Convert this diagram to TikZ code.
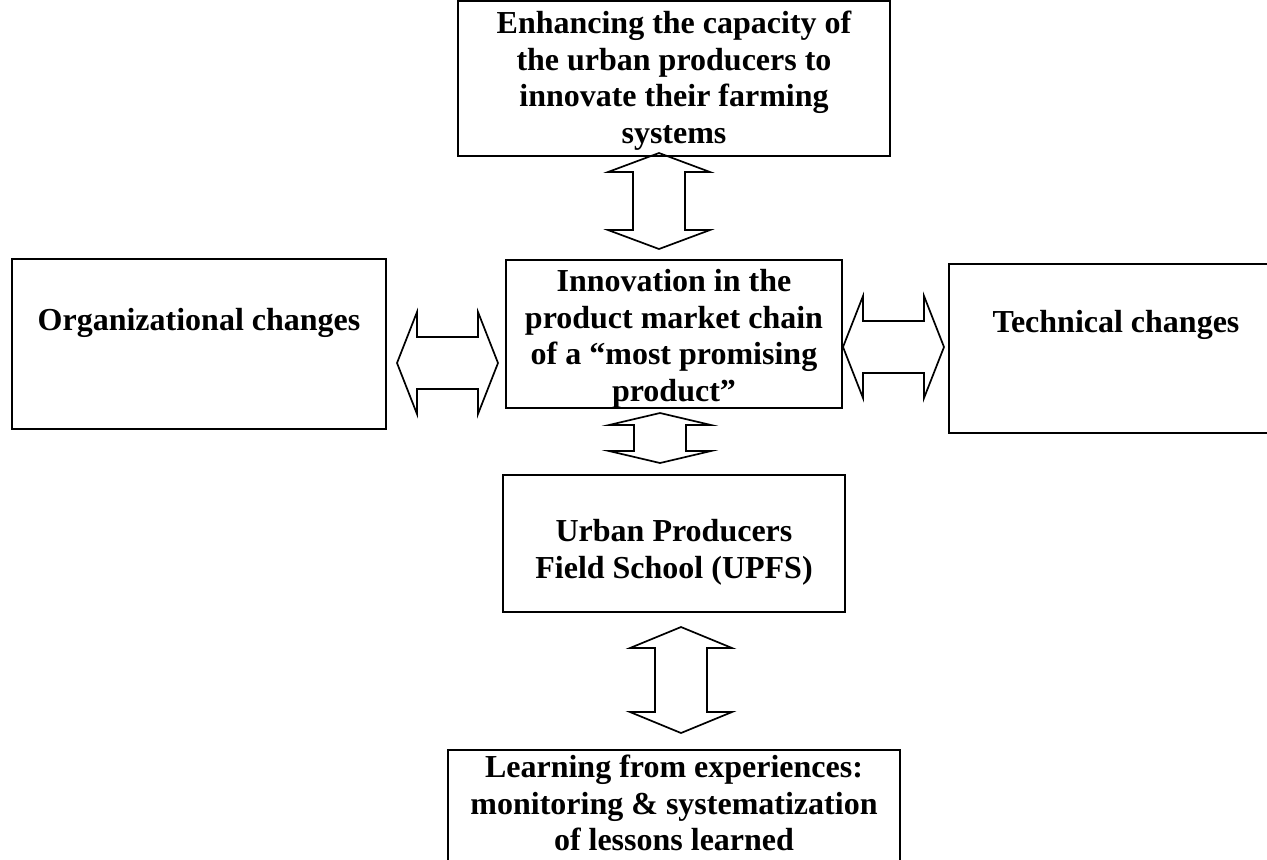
\documentclass[tikz,border=0pt]{standalone}
\usepackage{fontspec}
\setmainfont{Liberation Serif}
\usetikzlibrary{calc}

% up-down block arrow between two tips (#1 = head length)
\newcommand{\vbiarrow}[3][9.5pt]{%
	\draw[biarrow] let \p1=(#2), \p2=(#3) in
	(\p1) -- (\x1+25.5pt,\y1-#1) -- (\x1+13pt,\y1-#1) -- (\x1+13pt,\y2+#1)
	-- (\x1+25.5pt,\y2+#1) -- (\p2) -- (\x1-25.5pt,\y2+#1) -- (\x1-13pt,\y2+#1)
	-- (\x1-13pt,\y1-#1) -- (\x1-25.5pt,\y1-#1) -- cycle;}
% left-right block arrow between two tips
\newcommand{\hbiarrow}[3][10pt]{%
	\draw[biarrow] let \p1=(#2), \p2=(#3) in
	(\p1) -- (\x1+#1,\y1+25.5pt) -- (\x1+#1,\y1+13pt) -- (\x2-#1,\y1+13pt)
	-- (\x2-#1,\y1+25.5pt) -- (\p2) -- (\x2-#1,\y1-25.5pt) -- (\x2-#1,\y1-13pt)
	-- (\x1+#1,\y1-13pt) -- (\x1+#1,\y1-25.5pt) -- cycle;}

\begin{document}
\begin{tikzpicture}[x=0.5pt,y=-0.5pt,line cap=butt,line join=miter]
	\tikzset{box/.style={draw,line width=1.2pt,inner sep=0pt,outer sep=0pt},
		boxtext/.style={font=\fontsize{16pt}{18.25pt}\selectfont\bfseries,align=center,inner sep=0pt},
		biarrow/.style={line width=0.85pt}
	}
	\useasboundingbox (0,0) rectangle (1267,859);
	% boxes
	\node[box,minimum width=216pt,minimum height=77.5pt] (enhance) at (674,78.5) {};
	\node[box,minimum width=168pt,minimum height=74pt] (innov) at (674,334) {};
	\node[box,minimum width=187pt,minimum height=85pt] (org) at (199,344) {};
	\node[box,minimum width=167pt,minimum height=84.5pt] (tech) at (1116,348.5) {};
	\node[box,minimum width=171pt,minimum height=68.5pt] (upfs) at (674,543.5) {};
	\node[box,minimum width=226pt,minimum height=59pt] (learn) at (674,809) {};
	% texts
	\node[boxtext,anchor=north] (enhancetxt) at ([yshift=-5pt]enhance.north) {Enhancing the capacity of\\the urban producers to\\innovate their farming\\systems};
	\node[boxtext,anchor=north] (innovtxt) at ([yshift=-4.5pt]innov.north) {Innovation in the\\product market chain\\of a “most promising\\product”};
	\node[boxtext,anchor=base] (orgtxt) at ([yshift=-35.5pt]org.north) {Organizational changes};
	\node[boxtext,anchor=base] (techtxt) at ([yshift=-34pt]tech.north) {Technical changes};
	\node[boxtext,anchor=north] (upfstxt) at ([yshift=-22pt]upfs.north) {Urban Producers\\Field School (UPFS)};
	\node[boxtext,anchor=north] (learntxt) at ([yshift=-2.5pt]learn.north) {Learning from experiences:\\monitoring \& systematization\\of lessons learned};
	% arrow tips
	\coordinate (a1t) at ([shift={(-15,-3)}]enhance.south);
	\coordinate (a1b) at ([shift={(-15,-11)}]innov.north);
	\coordinate (a2t) at ([shift={(-14,5)}]innov.south);
	\coordinate (a2b) at ([shift={(-14,-12)}]upfs.north);
	\coordinate (a3t) at ([shift={(7,15)}]upfs.south);
	\coordinate (a3b) at ([shift={(7,-17)}]learn.north);
	\coordinate (a4l) at ([shift={(11,19)}]org.east);
	\coordinate (a4r) at ([shift={(-8,29)}]innov.west);
	\coordinate (a5l) at ([shift={(1,13)}]innov.east);
	\coordinate (a5r) at ([shift={(-5,-1.5)}]tech.west);
	% block arrows
	\vbiarrow{a1t}{a1b}
	\vbiarrow[6pt]{a2t}{a2b}
	\vbiarrow[10.5pt]{a3t}{a3b}
	\hbiarrow{a4l}{a4r}
	\hbiarrow{a5l}{a5r}
\end{tikzpicture}
\end{document}
